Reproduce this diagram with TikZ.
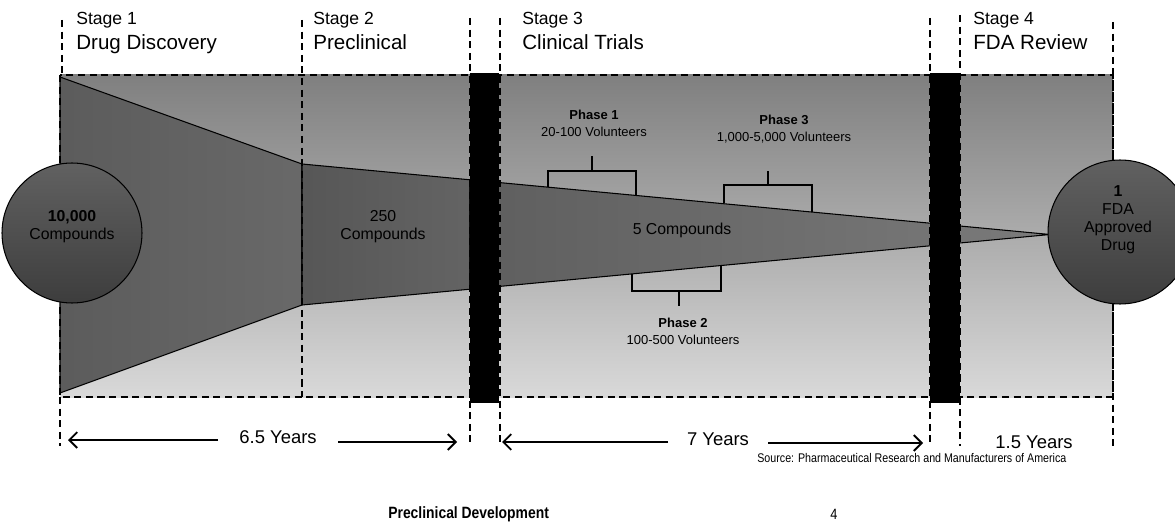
\documentclass[tikz,border=0pt]{standalone}
\usepackage{fontspec}
\setmainfont{Liberation Sans}
\newfontfamily\narrowfont[FakeStretch=0.85]{Liberation Sans}
\usetikzlibrary{arrows.meta}

\tikzset{
  guide/.style={line width=1.1pt, dash pattern=on 4pt off 2.6pt},
  gate/.style={fill=black},
  rim/.style={draw=black, line width=0.6pt},
  pool/.style={circle, rim, top color=black!62, bottom color=black!76, inner sep=0pt},
  stagelbl/.style={anchor=base west, inner sep=0pt, font=\fontsize{10}{12}\selectfont},
  headlbl/.style={anchor=base west, inner sep=0pt, font=\fontsize{11.7}{14}\selectfont},
  countlbl/.style={anchor=north, align=center, inner sep=0pt, font=\fontsize{9}{10.3}\selectfont},
  phaselbl/.style={anchor=north, align=center, inner sep=0pt, font=\fontsize{7.4}{9.3}\selectfont},
  bracket/.style={line width=0.9pt},
  yearlbl/.style={anchor=base, inner sep=0pt, font=\fontsize{10.5}{12}\selectfont},
  yeararrow/.style={line width=1.1pt, -{Straight Barb[length=4.5pt, width=9pt, line width=1.1pt]}},
  notelbl/.style={anchor=base west, inner sep=0pt},
}

\begin{document}
\begin{tikzpicture}[x=0.02cm, y=-0.02cm]
  \clip (0,0) rectangle (1175,523);

  % backdrop
  \fill[top color=black!50, middle color=black!33, bottom color=black!15]
    (60,75) rectangle (1113,397);

  % funnel
  \draw[rim, left color=black!64, right color=black!59]
    (60,77) -- (302,164) -- (302,305) -- (60,393) -- cycle;
  \draw[rim, left color=black!66, right color=black!61]
    (302,164) -- (470,179.8) -- (470,289.2) -- (302,305) -- cycle;
  \draw[rim, left color=black!63, right color=black!52]
    (470,179.8) -- (1050,234.5) -- (470,289.2) -- cycle;

  % stage guides
  \draw[guide] (60,75) rectangle (1113,397);
  \draw[guide] (62,20) -- (62,75);
  \draw[guide] (60,397) -- (60,446);
  \draw[guide] (302,20) -- (302,397);
  \draw[guide] (470,18) -- (470,446);
  \draw[guide] (500,18) -- (500,446);
  \draw[guide] (930,18) -- (930,446);
  \draw[guide] (960,15) -- (960,446);
  \draw[guide] (1113,22) -- (1113,446);

  % gates
  \fill[gate] (470,73) rectangle (499,403);
  \fill[gate] (930,73) rectangle (960,403);

  % start and end
  \node[pool, minimum size=2.8cm] (start) at (72,233) {};
  \node[pool, minimum size=2.88cm] (approved) at (1120,232) {};

  % stage headings
  \node[stagelbl] (st1) at (76,24.5) {Stage 1};
  \node[headlbl] (hd1) at (76,49.5) {Drug Discovery};
  \node[stagelbl] (st2) at (313,24.5) {Stage 2};
  \node[headlbl] (hd2) at (313,49.5) {Preclinical};
  \node[stagelbl] (st3) at (522,24.5) {Stage 3};
  \node[headlbl] (hd3) at (522,49.5) {Clinical Trials};
  \node[stagelbl] (st4) at (973,24.5) {Stage 4};
  \node[headlbl] (hd4) at (973,49.5) {FDA Review};

  % compound counts
  \node[countlbl] (n10000) at (72,210) {\textbf{10,000}\\Compounds};
  \node[countlbl] (n250) at (383,210) {250\\Compounds};
  \node[countlbl] (n5) at (682,223) {5 Compounds};
  \node[countlbl] (n1) at (1118,185) {\textbf{1}\\FDA\\Approved\\Drug};

  % phases
  \node[phaselbl] (ph1) at (594,110) {\textbf{Phase 1}\\20-100 Volunteers};
  \node[phaselbl] (ph3) at (784,115) {\textbf{Phase 3}\\1,000-5,000 Volunteers};
  \node[phaselbl] (ph2) at (683,318) {\textbf{Phase 2}\\100-500 Volunteers};

  \coordinate (p1a) at (548,187);
  \coordinate (p1b) at (636,195.3);
  \coordinate (p1m) at (592,171);
  \coordinate (p1s) at (592,156);
  \draw[bracket] (p1a) |- (p1m) -| (p1b);
  \draw[bracket] (p1m) -- (p1s);

  \coordinate (p3a) at (724,203.5);
  \coordinate (p3b) at (812,211.7);
  \coordinate (p3m) at (768,185);
  \coordinate (p3s) at (768,171);
  \draw[bracket] (p3a) |- (p3m) -| (p3b);
  \draw[bracket] (p3m) -- (p3s);

  \coordinate (p2a) at (632,274.1);
  \coordinate (p2b) at (721,265.8);
  \coordinate (p2m) at (679,291);
  \coordinate (p2s) at (679,306);
  \draw[bracket] (p2a) |- (p2m) -| (p2b);
  \draw[bracket] (p2m) -- (p2s);

  % durations
  \node[yearlbl] (yr1) at (278,443) {6.5 Years};
  \node[yearlbl] (yr2) at (718,445) {7 Years};
  \node[yearlbl] (yr3) at (1034,448) {1.5 Years};

  \coordinate (yr1l) at (68,440);
  \coordinate (yr1a) at (218,440);
  \coordinate (yr1b) at (338,442);
  \coordinate (yr1r) at (457,442);
  \draw[yeararrow] (yr1a) -- (yr1l);
  \draw[yeararrow] (yr1b) -- (yr1r);

  \coordinate (yr2l) at (502,442);
  \coordinate (yr2a) at (668,442);
  \coordinate (yr2b) at (768,443);
  \coordinate (yr2r) at (923,443);
  \draw[yeararrow] (yr2a) -- (yr2l);
  \draw[yeararrow, line width=1.6pt] (yr2b) -- (yr2r);

  % footer
  \node[notelbl, font=\narrowfont\fontsize{7.15}{8}\selectfont] (src) at (757,462)
    {Source: Pharmaceutical Research and Manufacturers of America};
  \node[notelbl, font=\narrowfont\bfseries\fontsize{9.3}{10}\selectfont] (foot) at (388,518.5)
    {Preclinical Development};
  \node[notelbl, font=\narrowfont\fontsize{8.5}{10}\selectfont] (pg) at (830,519) {4};
\end{tikzpicture}
\end{document}
